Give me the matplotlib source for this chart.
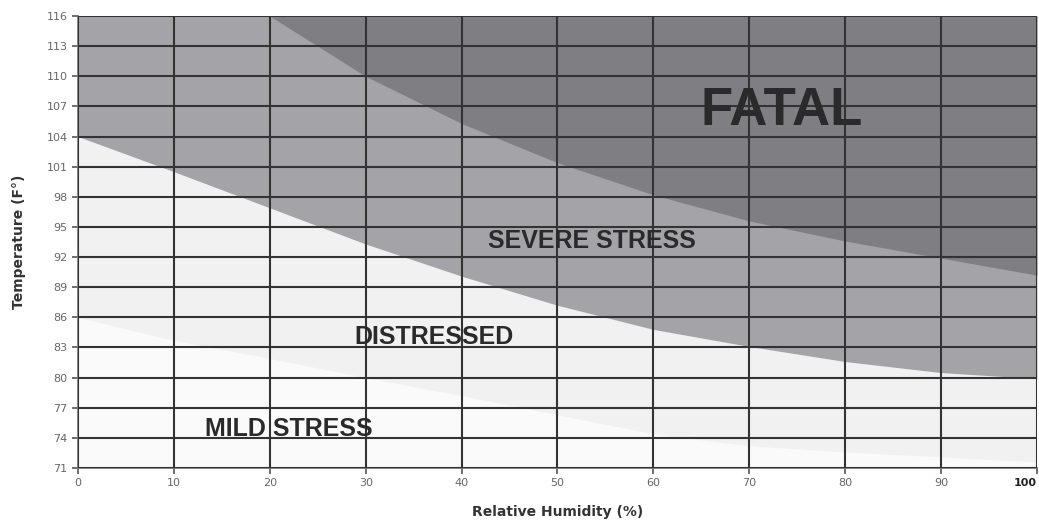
import matplotlib
matplotlib.use("Agg")
import matplotlib.pyplot as plt

# Relative humidity (%) sample positions
rh = [0, 10, 20, 30, 40, 50, 60, 70, 80, 90, 100]
# Upper boundary of MILD STRESS zone (F)
mild_upper = [86.0, 83.7, 81.9, 80.0, 78.2, 76.3, 74.4, 73.2, 72.6, 72.1, 71.6]
# Upper boundary of DISTRESSED zone (F)
distress_upper = [104.0, 100.5, 96.9, 93.3, 90.1, 87.2, 84.8, 83.1, 81.6, 80.5, 79.9]
# Lower boundary of FATAL zone (F), from 20% RH onward
rh_fatal = [20, 30, 40, 50, 60, 70, 80, 90, 100]
fatal_lower = [116.0, 110.0, 105.3, 101.4, 98.2, 95.6, 93.6, 91.9, 90.2]

x_ticks = list(range(0, 101, 10))
y_ticks = list(range(71, 117, 3))
zone_labels = ["FATAL", "SEVERE STRESS", "DISTRESSED", "MILD STRESS"]

fig = plt.figure(figsize=(10.39, 5.22), dpi=100)
ax = fig.add_axes([0.0751, 0.1034, 0.9229, 0.8659])

ymin, ymax = 71, 116
ax.fill_between(rh, ymin, mild_upper, color="#fafafa", lw=0, zorder=1)
ax.fill_between(rh, mild_upper, distress_upper, color="#f1f1f1", lw=0, zorder=1)
ax.fill_between(rh, distress_upper, ymax, color="#a4a4a8", lw=0, zorder=1)
ax.fill_between(rh_fatal, fatal_lower, ymax, color="#7f7f83", lw=0, zorder=2)

for xv in x_ticks:
    ax.axvline(xv, color="#333333", lw=1.5, zorder=3)
for yv in y_ticks:
    ax.axhline(yv, color="#333333", lw=1.5, zorder=3)

ax.set_xlim(0, 100)
ax.set_ylim(ymin, ymax)
ax.set_xticks(x_ticks)
ax.set_yticks(y_ticks)
ax.tick_params(axis="both", colors="#555555", labelsize=8, length=4, width=1.2,
               labelcolor="#666666")
for lbl in ax.get_xticklabels():
    if lbl.get_text() == "100":
        lbl.set_fontweight("bold")
        lbl.set_color("#222222")
        lbl.set_horizontalalignment("right")

ax.spines["right"].set_visible(False)
ax.spines["top"].set_color("#cccccc")
ax.spines["left"].set_color("#777777")
ax.spines["bottom"].set_color("#777777")
ax.spines["left"].set_linewidth(1.3)
ax.spines["bottom"].set_linewidth(1.3)

ax.set_xlabel("Relative Humidity (%)", fontsize=10, fontweight="bold", color="#333333",
              family="DejaVu Sans", labelpad=12)
ax.set_ylabel("Temperature (F°)", fontsize=10, fontweight="bold", color="#333333",
              family="DejaVu Sans", labelpad=15)

txt = dict(family="Liberation Sans", fontweight="bold", color="#2a2a2a",
           ha="center", va="center", zorder=5)
ax.text(73.4, 106.5, zone_labels[0], fontsize=38, **txt)
ax.text(53.6, 93.6, zone_labels[1], fontsize=18, **txt)
ax.text(37.1, 84.0, zone_labels[2], fontsize=18, **txt)
ax.text(22.0, 74.9, zone_labels[3], fontsize=18, **txt)

fig.savefig("out.png", dpi=100)
